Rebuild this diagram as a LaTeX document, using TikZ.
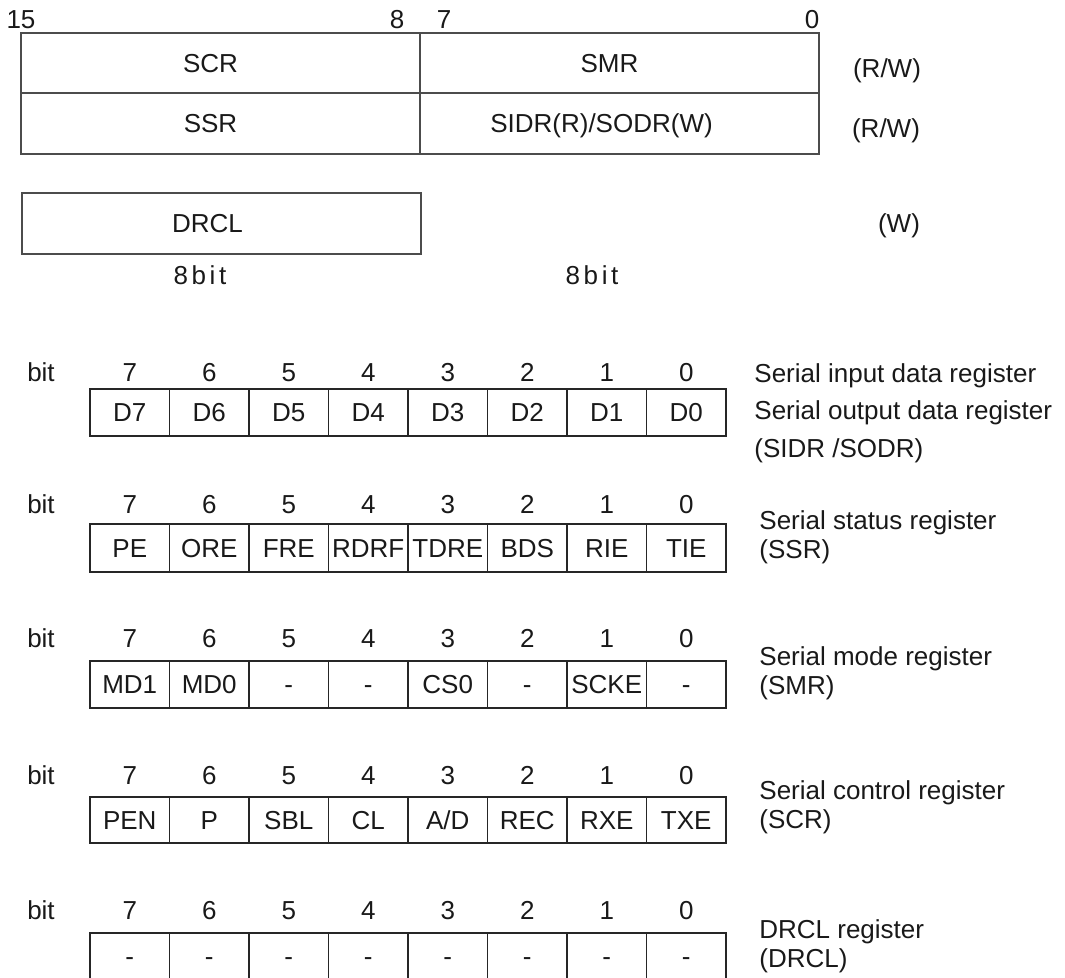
\documentclass[tikz,border=0pt]{standalone}
\usepackage{fontspec}
\setmainfont{Liberation Sans}
\newfontfamily\spacedfont[LetterSpace=14]{Liberation Sans}
\usetikzlibrary{positioning}

\begin{document}
\begin{tikzpicture}[
    x=0.5pt, y=-0.5pt,
    plaintext/.style={
        font=\fontsize{13}{15.6}\selectfont,
        text=black!90,
        inner sep=0pt
    },
    regtext/.style={
        plaintext,
        text height=10.5pt,
        text depth=1.2pt
    },
    wordcell/.style={
        regtext,
        draw=black!70,
        line width=0.8pt,
        minimum width=199.5pt,
        minimum height=30.25pt
    },
    bitcell/.style={
        regtext,
        draw=black!85,
        line width=0.9pt,
        minimum width=39.75pt,
        minimum height=23.75pt
    },
    regdesc/.style={
        plaintext,
        anchor=west,
        align=left,
        font=\fontsize{13}{14.5}\selectfont
    }
]
\useasboundingbox (0,0) rectangle (1065,978);

% 16-bit register map
\node[regtext] (b15) at (21,19) {15};
\node[regtext] (b8) at (397,19) {8};
\node[regtext] (b7) at (444,19) {7};
\node[regtext] (b0) at (812,19) {0};

\node[wordcell] (scr) at (220.5,63) {SCR\rule{10pt}{0pt}};
\node[wordcell] (smr) at (619.5,63) {SMR\rule{10pt}{0pt}};
\node[wordcell] (ssr) at (220.5,123.5) {SSR\rule{10pt}{0pt}};
\node[wordcell] (sidr) at (619.5,123.5) {SIDR(R)/SODR(W)\rule{18pt}{0pt}};
\node[wordcell, minimum height=30.5pt] (drcl) at (221.5,223.5) {DRCL\rule{14pt}{0pt}};

\node[regtext] (rw1) at (887,68) {(R/W)};
\node[regtext] (rw2) at (886,128) {(R/W)};
\node[regtext] (wo) at (899,223) {(W)};

\node[regtext] (hi8) at (200,275) {\spacedfont 8bit};
\node[regtext] (lo8) at (592,275) {\spacedfont 8bit};

% bit layouts
\foreach \y [count=\r] in {372,504,638,775,910} {
  \node[regtext] (bit\r) at (41,\y) {bit};
  \foreach \n [count=\i from 0] in {7,6,5,4,3,2,1,0}
    \node[regtext] (num\r-\i) at ({129.75+79.5*\i},\y) {\n};
}

\foreach \lab [count=\i from 0] in {D7,D6,D5,D4,D3,D2,D1,D0}
  \node[bitcell] (sd\i) at ({129.75+79.5*\i},412.5) {\lab};
\foreach \lab [count=\i from 0] in {PE,ORE,FRE,RDRF,TDRE,BDS,RIE,TIE}
  \node[bitcell, minimum height=24pt] (ss\i) at ({129.75+79.5*\i},548) {\lab};
\foreach \lab [count=\i from 0] in {MD1,MD0,-,-,CS0,-,SCKE,-}
  \node[bitcell] (sm\i) at ({129.75+79.5*\i},684.5) {\lab};
\foreach \lab [count=\i from 0] in {PEN,P,SBL,CL,A/D,REC,RXE,TXE}
  \node[bitcell, minimum height=23pt] (sc\i) at ({129.75+79.5*\i},820) {\lab};
\foreach \lab [count=\i from 0] in {-,-,-,-,-,-,-,-}
  \node[bitcell] (dr\i) at ({129.75+79.5*\i},956.5) {\lab};

\node[regdesc, font=\fontsize{13}{18.75}\selectfont] (sdtxt) at (754,413)
{Serial input data register\\Serial output data register\\(SIDR /SODR)};
\node[regdesc] (sstxt) at (759,537) {Serial status register\\(SSR)};
\node[regdesc] (smtxt) at (759,673) {Serial mode register\\(SMR)};
\node[regdesc] (sctxt) at (759,807) {Serial control register\\(SCR)};
\node[regdesc] (drtxt) at (759,946) {DRCL register\\(DRCL)};

\end{tikzpicture}
\end{document}
